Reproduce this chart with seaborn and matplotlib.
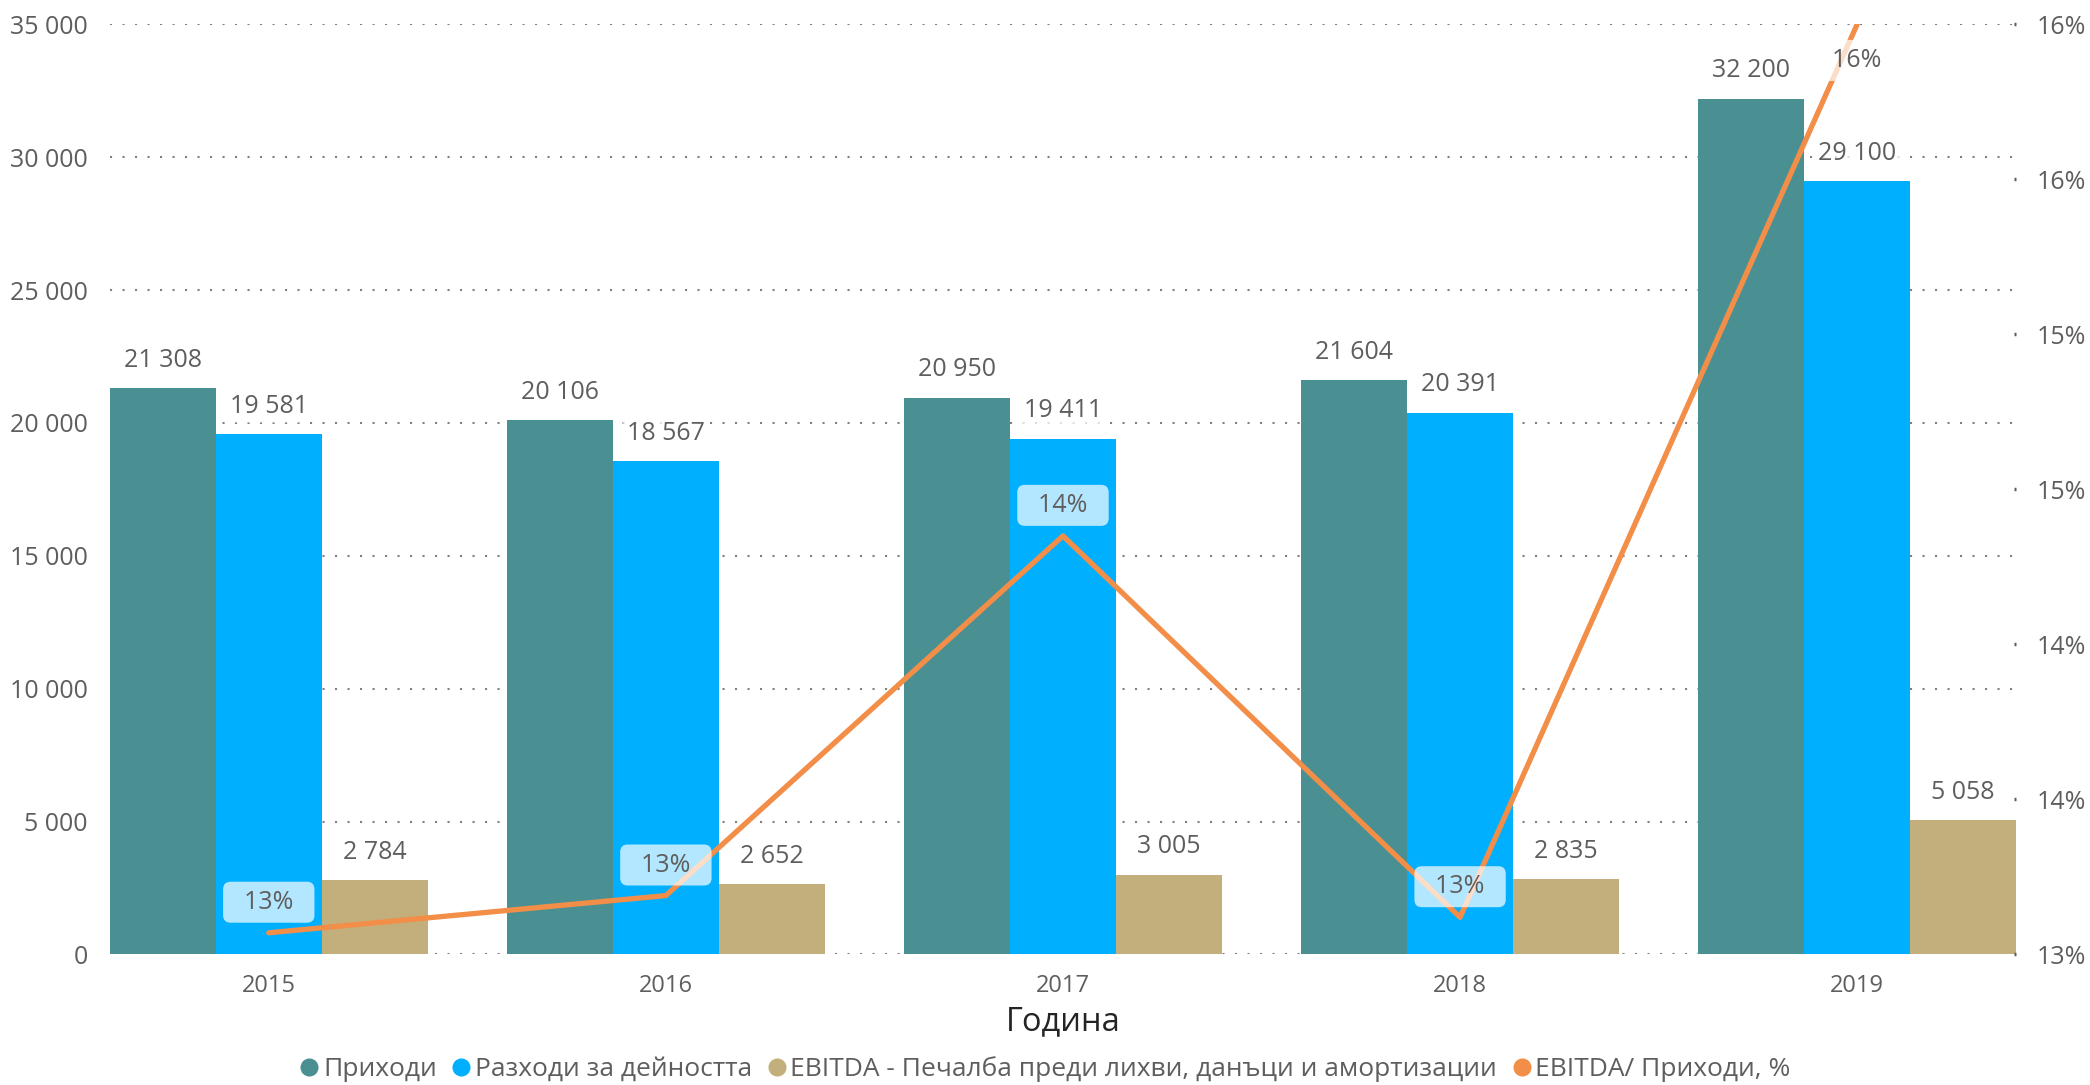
import numpy as np
import pandas as pd
import seaborn as sns
import matplotlib.pyplot as plt
from matplotlib.lines import Line2D
from matplotlib.ticker import FuncFormatter


#%% data

Years = ["2015", "2016", "2017", "2018", "2019"]

Revenue  = [21308, 20106, 20950, 21604, 32200]
Expenses = [19581, 18567, 19411, 20391, 29100]
Ebitda   = [2784, 2652, 3005, 2835, 5058]

# EBITDA / revenue, % (right axis)
Ratio = [13.07, 13.19, 14.35, 13.12, 16.0]

Names = ["Приходи",
         "Разходи за дейността",
         "EBITDA - Печалба преди лихви, данъци и амортизации",
         "EBITDA/ Приходи, %"]

LeftTicks  = [0, 5000, 10000, 15000, 20000, 25000, 30000, 35000]
RightTicks = [13, 13.5, 14, 14.5, 15, 15.5, 16]

df = pd.concat([pd.DataFrame({"Година": Years, "Стойност": vals, "Показател": name})
                for vals, name in zip([Revenue, Expenses, Ebitda], Names[:3])],
               ignore_index=True)


#%% style

Color_Rev    = "#4A9092"
Color_Exp    = "#01AFFF"
Color_Ebitda = "#C2AF7B"
Color_Ratio  = "#F28E48"
Colors = [Color_Rev, Color_Exp, Color_Ebitda, Color_Ratio]

TextColor  = "#605E5C"
TitleColor = "#252423"
GridColor  = "#808080"

FontSize = 18

sns.set_style("white")
plt.rcParams["font.family"] = ["Open Sans", "DejaVu Sans"]


def thousands(v):
    return f"{int(round(v)):,}".replace(",", " ")


#%% figure

Fig = plt.figure(figsize=[20.9, 10.85], dpi=100)
ax = Fig.add_axes([0.0526, 0.1203, 0.912, 0.8573])

sns.barplot(data=df, x="Година", y="Стойност", hue="Показател",
            hue_order=Names[:3], palette=Colors[:3], saturation=1,
            width=0.8, legend=False, ax=ax, zorder=2, linewidth=0)

ax.set_axisbelow(True)
ax.set_ylim(0, 35000)
ax.set_yticks(LeftTicks)
ax.set_yticklabels([thousands(t) for t in LeftTicks])
ax.grid(axis="y", linestyle=(0, (1, 5)), color=GridColor, linewidth=1.5)
ax.grid(axis="x", visible=False)
ax.tick_params(axis="y", length=0, pad=16, labelsize=FontSize, labelcolor=TextColor)
ax.tick_params(axis="x", length=0, pad=14, labelsize=17, labelcolor=TextColor)
ax.set_xlabel("Година", fontsize=23.5, color=TitleColor, labelpad=5)
ax.set_ylabel("")
for s in ax.spines.values():
    s.set_visible(False)

# ratio line on the right axis
ax2 = ax.twinx()
sns.lineplot(x=np.arange(len(Years)), y=Ratio, color=Color_Ratio,
             linewidth=3.8, ax=ax2, zorder=3, solid_capstyle="round")
ax2.set_ylim(13, 16)
ax2.set_yticks(RightTicks)
ax2.yaxis.set_major_formatter(FuncFormatter(lambda v, p: f"{int(v + 0.5)}%"))
ax2.tick_params(axis="y", direction="in", length=1.5, width=2.5, color=TextColor,
                pad=15, labelsize=FontSize, labelcolor=TextColor)
ax2.set_ylabel("")
ax2.grid(False)
for s in ax2.spines.values():
    s.set_visible(False)

ax.set_xlim(-0.4, len(Years) - 0.6)


# bar labels (drawn on ax2 so they sit above the line)
for cont in ax.containers:
    for bar in cont:
        xc = bar.get_x() + bar.get_width() / 2
        h = bar.get_height()
        ax2.annotate(thousands(h), xy=(xc, h), xycoords=ax.transData,
                     xytext=(0, 20), textcoords="offset points",
                     ha="center", va="center", fontsize=FontSize, color=TextColor,
                     bbox=dict(boxstyle="round,pad=0.15", fc="white", ec="none", alpha=0.75),
                     zorder=5)

# line labels
Top = ax2.get_ylim()[1]
for i, v in enumerate(Ratio):
    dy = -26 if v >= Top - 0.2 else 22
    ax2.annotate(f"  {int(v + 0.5)}%  ", xy=(i, v), xytext=(0, dy),
                 textcoords="offset points", ha="center", va="center",
                 fontsize=FontSize, color=TextColor,
                 bbox=dict(boxstyle="round,pad=0.32,rounding_size=0.3",
                           fc="white", ec="none", alpha=0.7),
                 zorder=6)


# legend
Handles = [Line2D([], [], marker="o", linestyle="none", markersize=13,
                  markerfacecolor=c, markeredgecolor="none") for c in Colors]
Fig.legend(Handles, Names, loc="center", bbox_to_anchor=(0.5, 0.0145), ncol=4,
           frameon=False, fontsize=19, labelcolor=TextColor,
           handlelength=0.75, handletextpad=0.15, columnspacing=0.55,
           borderaxespad=0, borderpad=0)

Fig.savefig("out.png", dpi=100)
